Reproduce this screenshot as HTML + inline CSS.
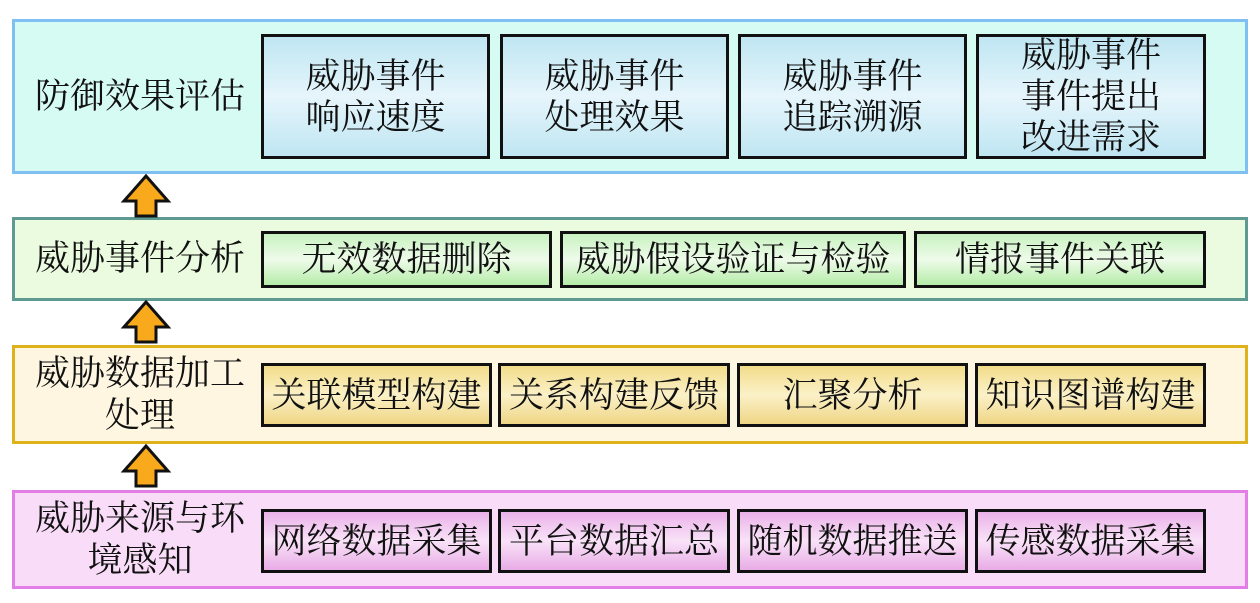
<!DOCTYPE html>
<html><head><meta charset="utf-8"><style>
body{margin:0;width:1260px;height:603px;background:#fff;position:relative;overflow:hidden;font-family:"Liberation Serif","Noto Serif CJK SC",serif;color:#111}
.p{position:absolute;left:12px;width:1236px;box-sizing:border-box}
.l{position:absolute;left:24px;width:232px;text-align:center;font-size:35px;line-height:42px;display:flex;align-items:center;justify-content:center}
.b{position:absolute;box-sizing:border-box;border:3px solid #111;font-size:35px;line-height:41px;display:flex;align-items:center;justify-content:center;text-align:center}
.c{background:linear-gradient(#bfe6f2,#e6f5fb 50%,#bfe6f2)}
.g{background:linear-gradient(#c8f2c0,#eefbea 50%,#b5eca8)}
.y{background:linear-gradient(#f2dc8a,#fbf1c8 50%,#efd685)}
.m{background:linear-gradient(#eab2e8,#f9e2f8 50%,#e8ace6)}
svg{position:absolute}
</style></head><body>
<div class="p" style="top:19px;height:155px;background:#d6fbf3;border:3px solid #7fbff2"></div>
<div class="l" style="top:19px;height:155px">防御效果评估</div>
<div class="b c" style="left:261px;top:34px;width:229px;height:125px">威胁事件<br>响应速度</div>
<div class="b c" style="left:500px;top:34px;width:229px;height:125px">威胁事件<br>处理效果</div>
<div class="b c" style="left:738px;top:34px;width:229px;height:125px">威胁事件<br>追踪溯源</div>
<div class="b c" style="left:976px;top:34px;width:230px;height:125px">威胁事件<br>事件提出<br>改进需求</div>

<div class="p" style="top:217px;height:84px;background:#ebfbe0;border:3px solid #5f9a92"></div>
<div class="l" style="top:217px;height:84px">威胁事件分析</div>
<div class="b g" style="left:261px;top:231px;width:291px;height:57px">无效数据删除</div>
<div class="b g" style="left:560px;top:231px;width:346px;height:57px">威胁假设验证与检验</div>
<div class="b g" style="left:914px;top:231px;width:292px;height:57px">情报事件关联</div>

<div class="p" style="top:345px;height:99px;background:#fff6e2;border:3px solid #ddb21a"></div>
<div class="l" style="top:345px;height:99px">威胁数据加工<br>处理</div>
<div class="b y" style="left:261px;top:363px;width:231px;height:64px">关联模型构建</div>
<div class="b y" style="left:498px;top:363px;width:232px;height:64px">关系构建反馈</div>
<div class="b y" style="left:737px;top:363px;width:231px;height:64px">汇聚分析</div>
<div class="b y" style="left:975px;top:363px;width:231px;height:64px">知识图谱构建</div>

<div class="p" style="top:490px;height:99px;background:#f9dcf8;border:3px solid #e27ee6"></div>
<div class="l" style="top:490px;height:99px">威胁来源与环<br>境感知</div>
<div class="b m" style="left:261px;top:509px;width:231px;height:64px">网络数据采集</div>
<div class="b m" style="left:498px;top:509px;width:232px;height:64px">平台数据汇总</div>
<div class="b m" style="left:737px;top:509px;width:231px;height:64px">随机数据推送</div>
<div class="b m" style="left:975px;top:509px;width:231px;height:64px">传感数据采集</div>

<svg width="60" height="50" style="left:116px;top:172px"><polygon points="30,4 52,29 40,29 40,44 20,44 20,29 8,29" fill="#f9a91c" stroke="#111" stroke-width="3"/></svg>
<svg width="60" height="50" style="left:116px;top:298px"><polygon points="30,4 52,29 40,29 40,44 20,44 20,29 8,29" fill="#f9a91c" stroke="#111" stroke-width="3"/></svg>
<svg width="60" height="50" style="left:116px;top:442px"><polygon points="30,4 52,29 40,29 40,44 20,44 20,29 8,29" fill="#f9a91c" stroke="#111" stroke-width="3"/></svg>
</body></html>
